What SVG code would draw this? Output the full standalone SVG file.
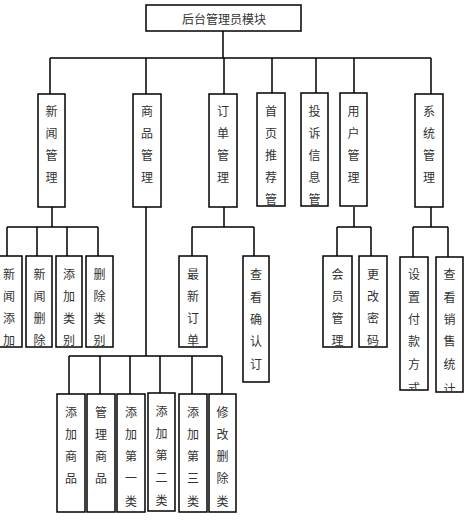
<svg xmlns="http://www.w3.org/2000/svg" width="472" height="522" viewBox="0 0 472 522">
<style>
.box{fill:#fff;stroke:#000;stroke-width:1.5}
.ln{fill:none;stroke:#000;stroke-width:1.5}
text{font-family:"Noto Sans CJK SC","Noto Sans CJK JP",sans-serif;font-size:12px;fill:#333;text-anchor:middle;dominant-baseline:central}
</style>
<defs>
<clipPath id="c1"><rect x="400" y="257" width="28" height="133"/></clipPath>
<clipPath id="c2"><rect x="436" y="257" width="27" height="135"/></clipPath>
</defs>
<rect width="472" height="522" fill="#fff"/>
<g id="connectors" class="ln">
<path d="M223 31V58M50 58H431M50 58V94M146 58V94M224 58V94M272 58V93M316 58V93M354 58V93M431 58V94"/>
<path d="M52 207V227M7 227H98M7 227V256M37 227V256M67 227V256M98 227V256"/>
<path d="M224 207V227M192 227H254M192 227V256M254 227V256"/>
<path d="M354 207V227M337 227H371M337 227V256M371 227V256"/>
<path d="M431 207V227M413 227H448M413 227V257M448 227V257"/>
<path d="M146 207V356M69 356H222M69 356V394M100 356V394M130 356V394M160 356V393M192 356V394M222 356V394"/>
</g>
<g id="root"><rect class="box" x="146" y="5" width="155" height="26"/><text x="224" y="18">后台管理员模块</text></g>
<g id="n1"><rect class="box" x="38" y="94" width="27" height="113"/><text><tspan x="51.5" y="110">新</tspan><tspan x="51.5" y="132">闻</tspan><tspan x="51.5" y="154">管</tspan><tspan x="51.5" y="176">理</tspan></text></g>
<g id="n2"><rect class="box" x="133" y="94" width="28" height="113"/><text><tspan x="147" y="110">商</tspan><tspan x="147" y="132">品</tspan><tspan x="147" y="154">管</tspan><tspan x="147" y="176">理</tspan></text></g>
<g id="n3"><rect class="box" x="209" y="94" width="28" height="113"/><text><tspan x="223" y="110">订</tspan><tspan x="223" y="132">单</tspan><tspan x="223" y="154">管</tspan><tspan x="223" y="176">理</tspan></text></g>
<g id="n4"><rect class="box" x="257" y="93" width="28" height="113"/><text><tspan x="271" y="110">首</tspan><tspan x="271" y="132">页</tspan><tspan x="271" y="154">推</tspan><tspan x="271" y="176">荐</tspan><tspan x="271" y="198">管</tspan></text></g>
<g id="n5"><rect class="box" x="301" y="93" width="27" height="113"/><text><tspan x="314.5" y="110">投</tspan><tspan x="314.5" y="132">诉</tspan><tspan x="314.5" y="154">信</tspan><tspan x="314.5" y="176">息</tspan><tspan x="314.5" y="198">管</tspan></text></g>
<g id="n6"><rect class="box" x="340" y="93" width="27" height="113"/><text><tspan x="353.5" y="110">用</tspan><tspan x="353.5" y="132">户</tspan><tspan x="353.5" y="154">管</tspan><tspan x="353.5" y="176">理</tspan></text></g>
<g id="n7"><rect class="box" x="415" y="94" width="28" height="113"/><text><tspan x="429" y="110">系</tspan><tspan x="429" y="132">统</tspan><tspan x="429" y="154">管</tspan><tspan x="429" y="176">理</tspan></text></g>
<g id="n1a"><rect class="box" x="-4" y="256" width="26" height="91"/><text><tspan x="9" y="273">新</tspan><tspan x="9" y="295">闻</tspan><tspan x="9" y="317">添</tspan><tspan x="9" y="339">加</tspan></text></g>
<g id="n1b"><rect class="box" x="26" y="256" width="26" height="91"/><text><tspan x="39.5" y="273">新</tspan><tspan x="39.5" y="295">闻</tspan><tspan x="39.5" y="317">删</tspan><tspan x="39.5" y="339">除</tspan></text></g>
<g id="n1c"><rect class="box" x="56" y="256" width="26" height="91"/><text><tspan x="69" y="273">添</tspan><tspan x="69" y="295">加</tspan><tspan x="69" y="317">类</tspan><tspan x="69" y="339">别</tspan></text></g>
<g id="n1d"><rect class="box" x="86" y="256" width="27" height="91"/><text><tspan x="99.5" y="273">删</tspan><tspan x="99.5" y="295">除</tspan><tspan x="99.5" y="317">类</tspan><tspan x="99.5" y="339">别</tspan></text></g>
<g id="n3a"><rect class="box" x="179" y="256" width="28" height="91"/><text><tspan x="193" y="273">最</tspan><tspan x="193" y="295">新</tspan><tspan x="193" y="317">订</tspan><tspan x="193" y="339">单</tspan></text></g>
<g id="n3b"><rect class="box" x="243" y="256" width="26" height="126"/><text><tspan x="256" y="273">查</tspan><tspan x="256" y="296">看</tspan><tspan x="256" y="318">确</tspan><tspan x="256" y="340">认</tspan><tspan x="256" y="363">订</tspan></text></g>
<g id="n6a"><rect class="box" x="323" y="256" width="29" height="91"/><text><tspan x="337.5" y="273">会</tspan><tspan x="337.5" y="295">员</tspan><tspan x="337.5" y="317">管</tspan><tspan x="337.5" y="339">理</tspan></text></g>
<g id="n6b"><rect class="box" x="359" y="256" width="28" height="91"/><text><tspan x="373" y="273">更</tspan><tspan x="373" y="295">改</tspan><tspan x="373" y="317">密</tspan><tspan x="373" y="339">码</tspan></text></g>
<g id="n7a"><rect class="box" x="400" y="257" width="28" height="133"/><text clip-path="url(#c1)"><tspan x="414" y="273">设</tspan><tspan x="414" y="296">置</tspan><tspan x="414" y="318">付</tspan><tspan x="414" y="340">款</tspan><tspan x="414" y="363">方</tspan><tspan x="414" y="387">式</tspan></text></g>
<g id="n7b"><rect class="box" x="436" y="257" width="27" height="135"/><text clip-path="url(#c2)"><tspan x="449.5" y="273">查</tspan><tspan x="449.5" y="296">看</tspan><tspan x="449.5" y="318">销</tspan><tspan x="449.5" y="340">售</tspan><tspan x="449.5" y="363">统</tspan><tspan x="449.5" y="388">计</tspan></text></g>
<g id="n2a"><rect class="box" x="57" y="394" width="28" height="118"/><text><tspan x="71" y="411">添</tspan><tspan x="71" y="433">加</tspan><tspan x="71" y="455">商</tspan><tspan x="71" y="477">品</tspan></text></g>
<g id="n2b"><rect class="box" x="87" y="394" width="28" height="118"/><text><tspan x="101" y="411">管</tspan><tspan x="101" y="433">理</tspan><tspan x="101" y="455">商</tspan><tspan x="101" y="477">品</tspan></text></g>
<g id="n2c"><rect class="box" x="117" y="394" width="28" height="118"/><text><tspan x="131" y="411">添</tspan><tspan x="131" y="433">加</tspan><tspan x="131" y="455">第</tspan><tspan x="131" y="477">一</tspan><tspan x="131" y="500">类</tspan></text></g>
<g id="n2d"><rect class="box" x="148" y="393" width="27" height="118"/><text><tspan x="161.5" y="410">添</tspan><tspan x="161.5" y="432">加</tspan><tspan x="161.5" y="454">第</tspan><tspan x="161.5" y="476">二</tspan><tspan x="161.5" y="499">类</tspan></text></g>
<g id="n2e"><rect class="box" x="179" y="394" width="28" height="118"/><text><tspan x="193" y="411">添</tspan><tspan x="193" y="433">加</tspan><tspan x="193" y="455">第</tspan><tspan x="193" y="477">三</tspan><tspan x="193" y="500">类</tspan></text></g>
<g id="n2f"><rect class="box" x="209" y="394" width="27" height="118"/><text><tspan x="222.5" y="411">修</tspan><tspan x="222.5" y="433">改</tspan><tspan x="222.5" y="455">删</tspan><tspan x="222.5" y="477">除</tspan><tspan x="222.5" y="500">类</tspan></text></g>
</svg>
